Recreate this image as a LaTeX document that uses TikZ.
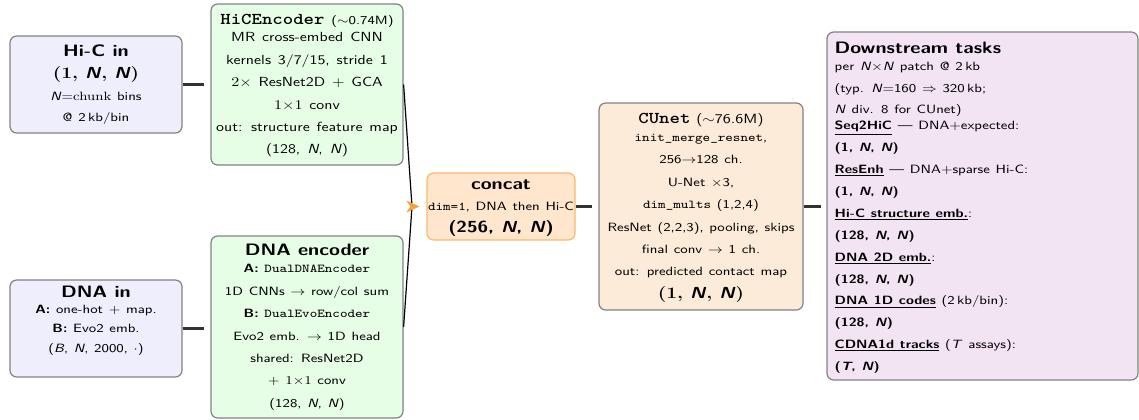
\documentclass[tikz,border=0pt]{standalone}
\usepackage{graphicx}
\usetikzlibrary{arrows.meta}
\definecolor{infill}{RGB}{238,238,253}
\definecolor{encfill}{RGB}{230,253,230}
\definecolor{catfill}{RGB}{255,230,204}
\definecolor{catdraw}{RGB}{250,185,110}
\definecolor{unetfill}{RGB}{253,235,218}
\definecolor{downfill}{RGB}{242,228,242}
\definecolor{boxdraw}{RGB}{130,130,130}
\definecolor{conncol}{RGB}{50,50,50}
\definecolor{arrcol}{RGB}{247,160,64}
\newcommand\SX{1.2}
\newcommand\bodyfont{\sffamily\fontsize{9}{16.8}\selectfont\spaceskip=3.6pt plus 1pt minus 0.5pt}
\newcommand\bigbodyfont{\sffamily\fontsize{9.9}{16.8}\selectfont\spaceskip=4.3pt plus 1pt minus 0.5pt}
\newcommand\SXT[2]{\scalebox{\SX}[1]{\bodyfont\begin{tabular}{@{}#1@{}}#2\end{tabular}}}
\newcommand\SXTB[2]{\scalebox{\SX}[1]{\bigbodyfont\begin{tabular}{@{}#1@{}}#2\end{tabular}}}
\newcommand\ttl[1]{{\spaceskip=0pt\fontsize{12.4}{14}\selectfont\bfseries #1}}
\newcommand\ttlt[1]{{\spaceskip=0pt\fontsize{12.4}{14}\selectfont\ttfamily\bfseries #1}}
\newcommand\BigShape[1]{{\fontsize{12}{14}\selectfont\spaceskip=0pt\bfseries\textrm{(#1,} \textit{N}\textrm{,} \textit{N}\textrm{)}}}
\newcommand\BigShapeS[1]{{\fontsize{12}{14}\selectfont\spaceskip=0pt\bfseries(#1, \textit{N}, \textit{N})}}
\newcommand\ulb[1]{\underline{\textbf{#1}}}
\tikzset{
  nbox/.style={draw=boxdraw, line width=0.9pt, rounded corners=5pt, inner sep=0pt},
  conn/.style={draw=conncol, line width=1.6pt},
  mergeline/.style={draw=black, line width=0.9pt},
}
\begin{document}
\begin{tikzpicture}[x=0.75pt, y=-0.75pt]
\path[use as bounding box] (0,0) rectangle (1139,419);

\node[nbox, fill=infill, minimum width=129pt, minimum height=72.75pt] (hicin) at (96,84.5) {\SXT{c}{%
\ttl{Hi-C in}\\[-0.5pt]
\BigShape{1}\\
\textit{N}$=$\textrm{chunk} bins\\[-1pt]
@ 2\,kb/bin}};

\node[nbox, fill=encfill, minimum width=144pt, minimum height=120.75pt] (hicenc) at (307,84.5) {\SXTB{c}{%
\ttlt{HiCEncoder} {\fontsize{9}{14}\selectfont\spaceskip=3.6pt($\sim$0.74M)}\\[-3.5pt]
MR cross-embed CNN\\
kernels 3/7/15, stride 1\\
$2\times$ ResNet2D $+$ GCA\\
$1{\times}1$ conv\\
out: structure feature map\\
(128, \textit{N}, \textit{N})}};

\node[nbox, fill=infill, minimum width=129pt, minimum height=72.75pt] (dnain) at (96,328.5) {\SXT{c}{%
\ttl{DNA in}\\[-5pt]
\textbf{A:} one-hot $+$ map.\\[-2.2pt]
\textbf{B:} Evo2 emb.\\[-2.2pt]
(\textit{B}, \textit{N}, 2000, $\cdot$)\\[12pt]}};

\node[nbox, fill=encfill, minimum width=144pt, minimum height=136.5pt] (dnaenc) at (307,327) {\SXT{c}{%
\ttl{DNA encoder}\\[-3.8pt]
\textbf{A:} \texttt{DualDNAEncoder}\\
1D CNNs $\rightarrow$ row/col sum\\
\textbf{B:} \texttt{DualEvoEncoder}\\
Evo2 emb. $\rightarrow$ 1D head\\
shared: ResNet2D\\
$+$ $1{\times}1$ conv\\
(128, \textit{N}, \textit{N})}};

\node[nbox, draw=catdraw, fill=catfill, minimum width=111pt, minimum height=50.25pt] (concat) at (501,206.5) {\SXT{c}{%
\ttl{concat}\\[-0.8pt]
\texttt{dim=1}, DNA then Hi-C\\[-0.8pt]
\BigShapeS{256}}};

\node[nbox, fill=unetfill, minimum width=153pt, minimum height=155.25pt] (cunet) at (701,206.5) {\SXT{c}{%
\ttlt{CUnet} {\fontsize{10}{14}\selectfont\spaceskip=0pt($\sim$76.6M)}\\[-3.3pt]
\texttt{init\_merge\_resnet},\\
256$\rightarrow$128 ch.\\
U-Net $\times$3,\\
\texttt{dim\_mults} (1,2,4)\\
ResNet (2,2,3), pooling, skips\\
final conv $\rightarrow$ 1 ch.\\
out: predicted contact map\\
\BigShape{1}}};

\node[nbox, fill=downfill, minimum width=233.25pt, minimum height=261pt] (down) at (982.5,206) {};
\node[inner sep=0pt, anchor=west] (downtxt) at ([xshift=6pt,yshift=-1pt]down.west) {\SXT{l}{%
\ttl{Downstream tasks}\\[-4pt]
per \textit{N}$\times$\textit{N} patch @ 2\,kb\\[-0.4pt]
(typ. \textit{N}$=$160 $\Rightarrow$ 320\,kb;\\[-0.4pt]
\textit{N} div. 8 for CUnet)\\[-4.8pt]
\ulb{Seq2HiC} --- DNA$+$expected:\\[-0.4pt]
\textbf{(1, \textit{N}, \textit{N})}\\[-0.4pt]
\ulb{ResEnh} --- DNA$+$sparse Hi-C:\\[-0.4pt]
\textbf{(1, \textit{N}, \textit{N})}\\[-0.4pt]
\ulb{Hi-C structure emb.}:\\[-0.4pt]
\textbf{(128, \textit{N}, \textit{N})}\\[-0.4pt]
\ulb{DNA 2D emb.}:\\[-0.4pt]
\textbf{(128, \textit{N}, \textit{N})}\\[-0.4pt]
\ulb{DNA 1D codes} (2\,kb/bin):\\[-0.4pt]
\textbf{(128, \textit{N})}\\[-0.4pt]
\ulb{CDNA1d tracks} (\textit{T} assays):\\[-0.4pt]
\textbf{(\textit{T}, \textit{N})}}};

\coordinate (merge) at (412,206.5);
\draw[conn, shorten >=4.5pt] (hicin.east) -- (hicin.east -| hicenc.west);
\draw[conn, shorten >=4.5pt] (dnain.east) -- (dnain.east -| dnaenc.west);
\draw[conn, shorten >=4.5pt] (concat.east) -- (concat.east -| cunet.west);
\draw[conn, shorten >=4pt] (cunet.east) -- (cunet.east -| down.west);
\draw[mergeline] (hicenc.east) -- (merge) -- (dnaenc.east);
\draw[draw=arrcol, line width=0.9pt, -{Stealth[length=9.75pt, width=9pt, inset=3pt, fill=arrcol]}] (merge) -- ([xshift=-5.25pt]concat.west);
\end{tikzpicture}
\end{document}
